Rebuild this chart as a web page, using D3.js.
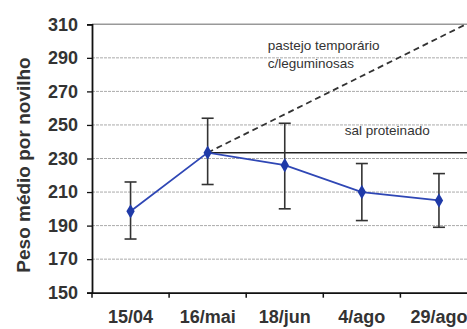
<!DOCTYPE html>
<html><head><meta charset="utf-8">
<script src="https://cdn.jsdelivr.net/npm/d3@7"></script>
<style>body{margin:0;background:#fff}svg{display:block}</style>
</head><body>
<svg id="c" width="467" height="329"></svg>
<script>
const categories = ["15/04","16/mai","18/jun","4/ago","29/ago"];
const means = [198.5, 233.5, 226, 210, 205];
const errLow = [182, 214.5, 200, 193, 189];
const errHigh = [216, 254, 251, 227, 221];
const yTicks = [150,170,190,210,230,250,270,290,310];
const saltLevel = 233.5;           // "sal proteinado" reference
const pastureLine = [["16/mai",233.5],["29/ago",302]]; // "pastejo temporário c/leguminosas"
const labels = [
  {text:"pastejo temporário", cat:"18/jun", dx:-17, v:294.5},
  {text:"c/leguminosas", cat:"18/jun", dx:-17, v:284},
  {text:"sal proteinado", cat:"4/ago", dx:-17, v:244}
];

const svg = d3.select("#c");
const L = 92, R = 477.5, T = 24.3, B = 292.7;
const x = d3.scaleBand().domain(categories).range([L, R]);
const y = d3.scaleLinear().domain([150, 310]).range([B, T]);
const cx = c => x(c) + x.bandwidth()/2;
const FONT = "Liberation Sans, Arial, sans-serif";

svg.append("defs").append("clipPath").attr("id","clip")
  .append("rect").attr("x",L).attr("y",T-2).attr("width",R-L).attr("height",B-T+2);

// gridlines
svg.append("g").selectAll("line").data(yTicks.filter(d=>d>150)).join("line")
  .attr("x1",L).attr("x2",R).attr("y1",d=>y(d)).attr("y2",d=>y(d))
  .attr("stroke",d=>d===310?"#999":"#aaa")
  .attr("stroke-width",d=>d===310?1.5:1)
  .attr("stroke-dasharray",d=>d===310?null:"3,1");

// y axis
const ya = svg.append("g").attr("transform",`translate(${L},0)`)
  .call(d3.axisLeft(y).tickValues(yTicks).tickSize(5).tickPadding(9));
ya.select(".domain").attr("stroke","#111").attr("stroke-width",1.8);
ya.selectAll(".tick line").attr("stroke","#111").attr("stroke-width",1.3);
ya.selectAll("text").attr("font-family",FONT)
  .attr("font-size",18).attr("font-weight","bold").attr("fill","#333");

// x axis
const xa = svg.append("g").attr("transform",`translate(0,${B})`)
  .call(d3.axisBottom(x).tickSize(0).tickPadding(17.5));
xa.select(".domain").attr("stroke","#111").attr("stroke-width",1.8);
xa.selectAll("text").attr("font-family",FONT)
  .attr("font-size",18).attr("font-weight","bold").attr("fill","#333");
svg.append("g").selectAll("line").data(categories).join("line")
  .attr("x1",d=>x(d)).attr("x2",d=>x(d)).attr("y1",B).attr("y2",B+5)
  .attr("stroke","#111").attr("stroke-width",1.5);

// y label
svg.append("text").attr("transform",`translate(30,165) rotate(-90)`)
  .attr("text-anchor","middle").attr("font-family",FONT)
  .attr("font-size",19).attr("font-weight","bold").attr("fill","#333")
  .text("Peso médio por novilho");

const g = svg.append("g").attr("clip-path","url(#clip)");
// salt line
g.append("line").attr("x1",cx("16/mai")).attr("x2",R).attr("y1",y(saltLevel)).attr("y2",y(saltLevel))
  .attr("stroke","#222").attr("stroke-width",1.5);
// pasture dashed line (extended to plot edge)
const p0 = pastureLine[0], p1 = pastureLine[1];
const slope = (y(p1[1])-y(p0[1]))/(cx(p1[0])-cx(p0[0]));
g.append("line").attr("x1",cx(p0[0])).attr("y1",y(p0[1]))
  .attr("x2",R).attr("y2",y(p0[1])+slope*(R-cx(p0[0])))
  .attr("stroke","#333").attr("stroke-width",1.8).attr("stroke-dasharray","6,4");

// error bars
const eb = svg.append("g").attr("stroke","#333").attr("stroke-width",1.6);
categories.forEach((c,i)=>{
  eb.append("line").attr("x1",cx(c)).attr("x2",cx(c)).attr("y1",y(errLow[i])).attr("y2",y(errHigh[i]));
  [errLow[i],errHigh[i]].forEach(v=>eb.append("line").attr("x1",cx(c)-6).attr("x2",cx(c)+6).attr("y1",y(v)).attr("y2",y(v)));
});

// mean line
const blue = "#2f47b5";
svg.append("path").datum(means).attr("fill","none").attr("stroke",blue).attr("stroke-width",1.8)
  .attr("d",d3.line().x((d,i)=>cx(categories[i])).y(d=>y(d)));
svg.append("g").selectAll("path").data(means).join("path")
  .attr("transform",(d,i)=>`translate(${cx(categories[i])},${y(d)})`)
  .attr("d",d3.symbol(d3.symbolDiamond,60)).attr("fill","#1f3aa8");

// annotations
svg.append("g").selectAll("text").data(labels).join("text")
  .attr("x",d=>cx(d.cat)+d.dx).attr("y",d=>y(d.v))
  .attr("font-family",FONT).attr("font-size",13.5)
  .attr("fill","#333").text(d=>d.text);
</script>
</body></html>
